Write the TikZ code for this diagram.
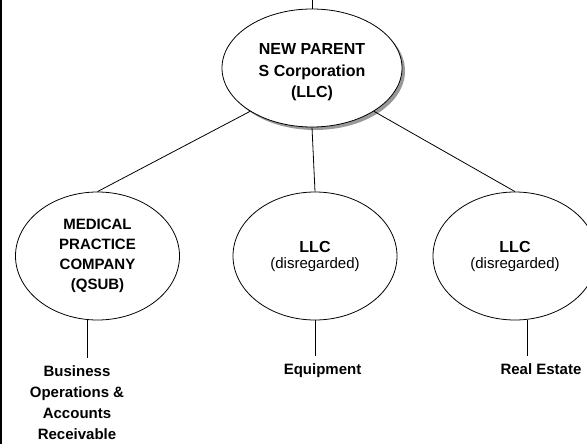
\documentclass[tikz,border=0pt]{standalone}
\usepackage{fontspec}
\setmainfont{Liberation Sans}
\usetikzlibrary{shapes.geometric,shadows}

\begin{document}
\begin{tikzpicture}[x=1pt,y=1pt,node distance=188pt,line width=0.8pt]
  \tikzstyle{entity}=[ellipse,draw,fill=white,align=center,inner sep=0pt,
                      minimum width=164pt,minimum height=128pt,
                      font=\bfseries\fontsize{15}{20}\selectfont]
  \tikzstyle{asset}=[align=center,inner sep=0pt,outer sep=8pt,anchor=north,
                     font=\bfseries\fontsize{15}{21}\selectfont]

  \clip (0,0) rectangle (587,-444);

  \node[entity,minimum width=180pt,minimum height=118pt,
        drop shadow={shadow xshift=3pt,shadow yshift=-3pt,fill=gray!80,opacity=1},
        font=\bfseries\fontsize{16}{21.5}\selectfont]
        (parent) at (312,-68) {\rule{0pt}{20pt}NEW PARENT\\S Corporation\\(LLC)};
  \coordinate (top) at (parent.north |- 0,0);

  \node[entity] (equipco) [below of=parent,xshift=3pt]
        {{\fontsize{16}{20}\selectfont LLC}\\[-4pt]{\mdseries\fontsize{15}{16}\selectfont (disregarded)}};
  \node[entity] (medco)   [node distance=217.5pt,left of=equipco]
        {MEDICAL\\PRACTICE\\COMPANY\\(QSUB)};
  \node[entity] (realco)  [node distance=200pt,right of=equipco]
        {{\fontsize{16}{20}\selectfont LLC}\\[-4pt]{\mdseries\fontsize{15}{16}\selectfont (disregarded)}};

  \node (bizops) [node distance=102pt,below of=medco,asset,xshift=-20.5pt]
        {Business\\Operations \&\\Accounts\\Receivable};
  \node (equip)  [node distance=100pt,below of=equipco,asset,xshift=7.5pt] {Equipment};
  \node (estate) [node distance=100pt,below of=realco,asset,xshift=26pt] {Real Estate};

  \path (parent.north) edge (top)
        (parent.215)   edge (medco.north)
        (parent.south) edge (equipco.north)
        (parent.325)   edge (realco.north)
        (medco.261)    edge (medco.261 |- bizops.north)
        (equipco.south) edge (equipco.south |- equip.north)
        (realco.281)   edge (realco.281 |- estate.north);

  % frame on the left
  \draw[line width=2pt] (1,0) -- (1,-444);
\end{tikzpicture}
\end{document}
